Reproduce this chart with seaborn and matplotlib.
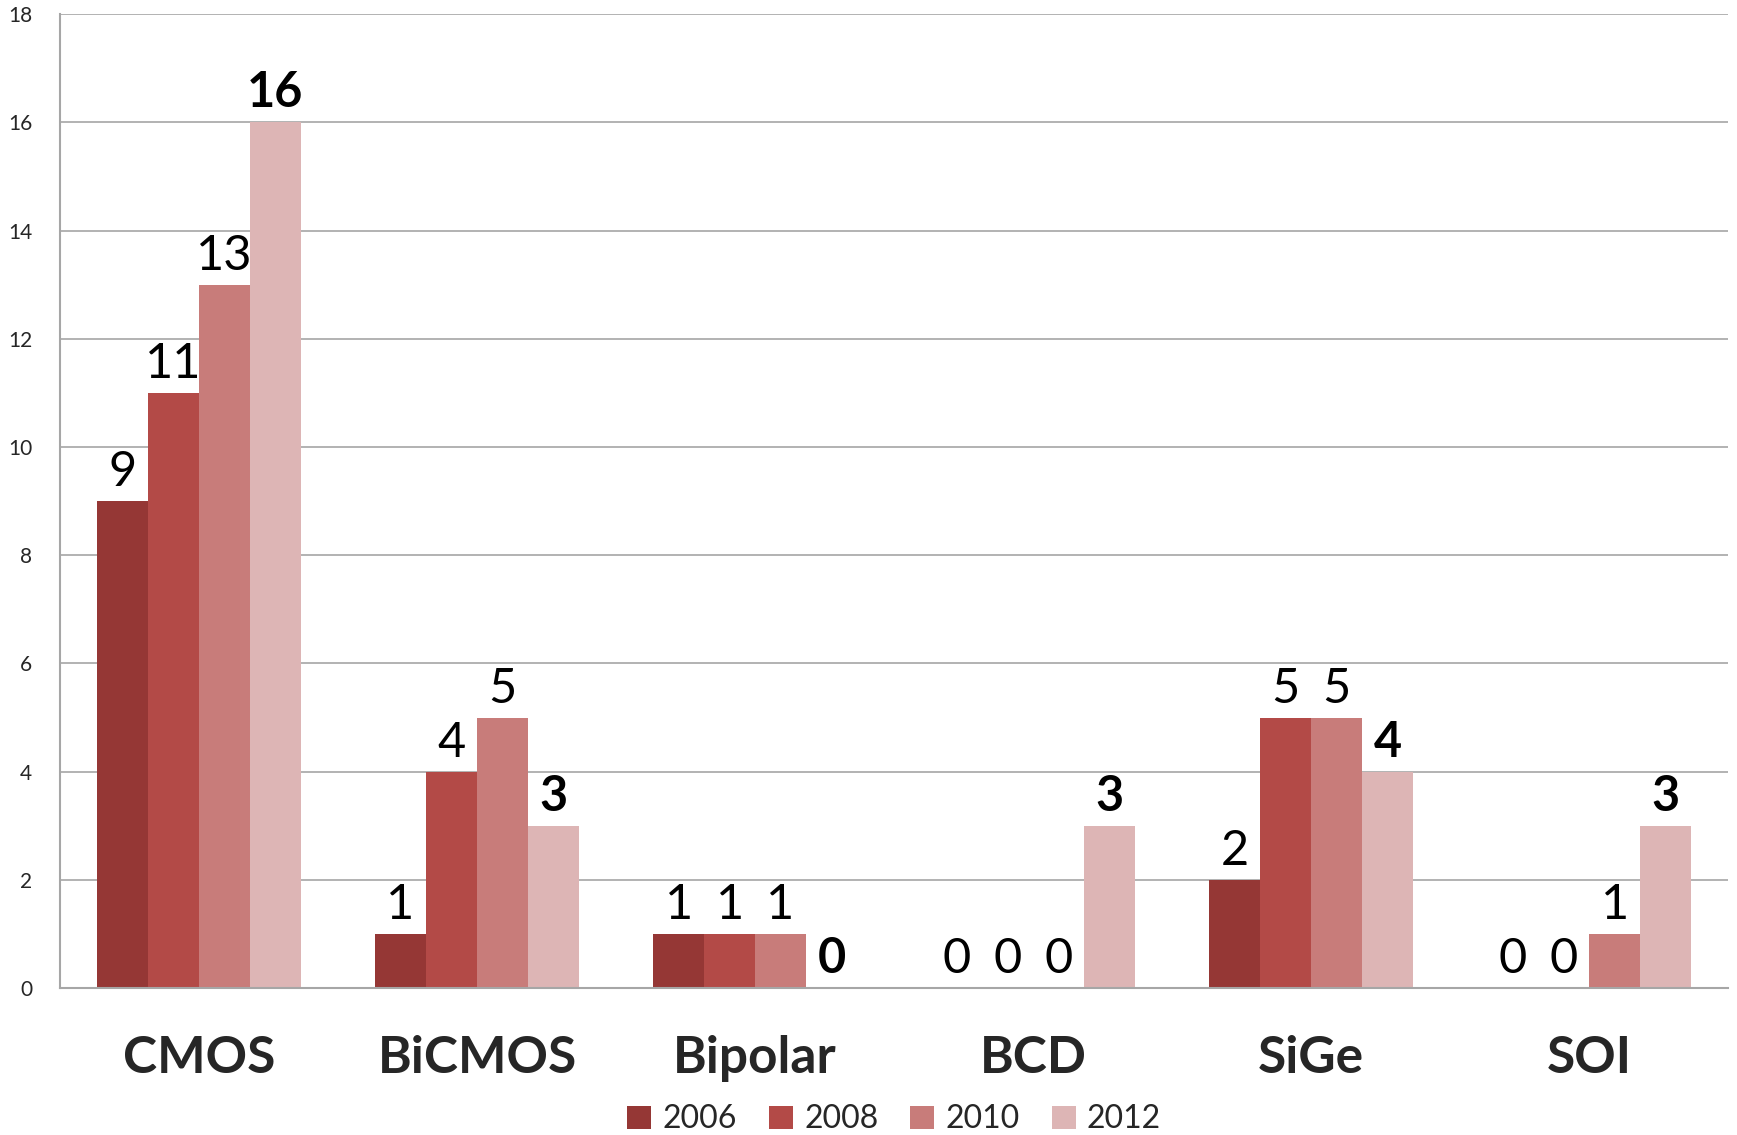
import pandas as pd
import numpy as np
import matplotlib.pyplot as plt
import seaborn as sns

# technology categories and counts per year
categories = ["CMOS", "BiCMOS", "Bipolar", "BCD", "SiGe", "SOI"]
years = ["2006", "2008", "2010", "2012"]
counts_2006 = [9, 1, 1, 0, 2, 0]
counts_2008 = [11, 4, 1, 0, 5, 0]
counts_2010 = [13, 5, 1, 0, 5, 1]
counts_2012 = [16, 3, 0, 3, 4, 3]

colors = ["#953735", "#B34A47", "#C87C7A", "#DDB5B5"]


def build_frame():
    series = [counts_2006, counts_2008, counts_2010, counts_2012]
    rows = []
    for year, vals in zip(years, series):
        for cat, v in zip(categories, vals):
            rows.append({"tech": cat, "year": year, "count": v})
    return pd.DataFrame(rows)


def main():
    df = build_frame()
    sns.set_style("white")
    plt.rcParams["font.family"] = ["Lato", "DejaVu Sans"]

    fig = plt.figure(figsize=(17.37, 11.35), dpi=100)
    ax = fig.add_axes([0.0345, 0.1295, 0.9605, 0.858])

    sns.barplot(data=df, x="tech", y="count", hue="year", order=categories,
                hue_order=years, palette=colors, width=0.733, saturation=1,
                edgecolor="none", linewidth=0, ax=ax, legend=True)

    # value labels, last series in bold
    for i, cont in enumerate(ax.containers):
        weight = "bold" if i == len(ax.containers) - 1 else "normal"
        ax.bar_label(cont, labels=[str(int(v)) for v in cont.datavalues],
                     padding=5, fontsize=35, fontweight=weight, color="black")

    ax.set_ylim(0, 18)
    ax.set_yticks(range(0, 19, 2))
    ax.set_xlim(-0.5, 5.5)
    ax.yaxis.grid(True, color="#a6a6a6", linewidth=1.2)
    ax.set_axisbelow(True)
    ax.set_xlabel("")
    ax.set_ylabel("")
    ax.tick_params(axis="y", length=0, labelsize=15, pad=20)
    ax.tick_params(axis="x", length=0, labelsize=37, pad=34)
    for lbl in ax.get_xticklabels():
        lbl.set_fontweight("bold")
    for side in ["top", "right"]:
        ax.spines[side].set_visible(False)
    for side in ["left", "bottom"]:
        ax.spines[side].set_color("#a6a6a6")
        ax.spines[side].set_linewidth(1.5)

    ax.legend(loc="lower center", bbox_to_anchor=(0.5, -0.17), ncol=4,
              frameon=False, fontsize=23, handlelength=0.75, handleheight=0.75,
              handletextpad=0.35, columnspacing=1.0, title=None,
              borderaxespad=0.2)

    fig.savefig("out.png", dpi=100)


if __name__ == "__main__":
    main()
